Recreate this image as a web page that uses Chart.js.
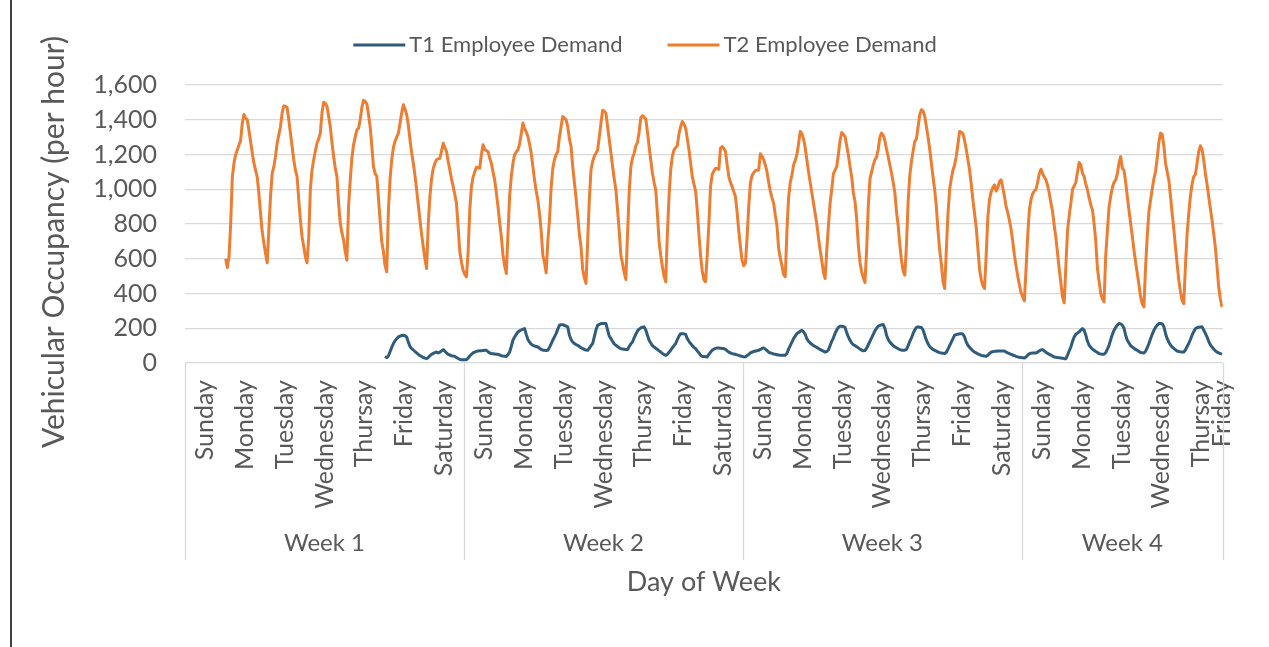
<!DOCTYPE html>
<html>
<head>
<meta charset="utf-8">
<title>Employee Demand</title>
<script src="https://cdn.jsdelivr.net/npm/chart.js@4.4.1/dist/chart.umd.min.js"></script>
<style>
  html, body { margin: 0; padding: 0; background: #ffffff; }
  #chart { display: block; }
</style>
</head>
<body>
<canvas id="chart" width="1269" height="647"></canvas>
<script>
// category structure: hourly points, grouped by day and week
// (the source workbook spells Thursday as "Thursay")
const days = ['Sunday', 'Monday', 'Tuesday', 'Wednesday', 'Thursay', 'Friday', 'Saturday'];
const weeks = ['Week 1', 'Week 2', 'Week 3', 'Week 4'];
const weekHours = [168, 168, 168, 121]; // week 4 stops at Friday 00:00

// T2 starts Monday 00:00 of week 1, T1 starts Friday 00:00 of week 1
const t2Start = 24;
const t1Start = 120;

// T2 Employee Demand, one row per day (24 hours)
const t2Week1 = [
    600, 550, 610, 800, 1070, 1150, 1200, 1225, 1255, 1280, 1380, 1430, 1410, 1400, 1340, 1275, 1210, 1150, 1110, 1070, 975, 860, 755, 690,
    630, 577, 765, 958, 1090, 1130, 1190, 1265, 1313, 1360, 1440, 1480, 1478, 1470, 1400, 1323, 1246, 1170, 1110, 1073, 940, 823, 727, 670,
    611, 577, 720, 1000, 1110, 1170, 1220, 1265, 1290, 1323, 1440, 1500, 1495, 1477, 1420, 1360, 1270, 1190, 1120, 1073, 920, 804, 750, 708,
    640, 592, 900, 1050, 1180, 1255, 1300, 1342, 1350, 1400, 1470, 1512, 1505, 1492, 1430, 1360, 1250, 1130, 1090, 1075, 950, 820, 700, 640,
    560, 525, 880, 1060, 1170, 1240, 1275, 1300, 1323, 1380, 1440, 1486, 1460, 1430, 1370, 1285, 1210, 1150, 1080, 996, 910, 823, 740, 669,
    600, 544, 800, 960, 1060, 1120, 1150, 1170, 1175, 1178, 1220, 1265, 1240, 1217, 1160, 1111, 1060, 1015, 970, 919, 780, 640, 580, 534
];
const t2Week2 = [
    510, 496, 640, 880, 1015, 1070, 1100, 1127, 1125, 1121, 1200, 1256, 1230, 1222, 1217, 1180, 1150, 1100, 1054, 980, 900, 810, 727, 620,
    560, 515, 740, 960, 1073, 1150, 1198, 1215, 1227, 1260, 1320, 1381, 1350, 1330, 1304, 1260, 1208, 1130, 1054, 990, 938, 861, 760, 620,
    580, 519, 700, 823, 1010, 1120, 1170, 1200, 1217, 1300, 1360, 1419, 1410, 1400, 1360, 1290, 1246, 1130, 1040, 950, 850, 740, 669, 540,
    490, 458, 700, 940, 1111, 1160, 1190, 1208, 1225, 1300, 1381, 1454, 1450, 1438, 1360, 1285, 1210, 1131, 1060, 996, 881, 760, 620, 573,
    520, 481, 740, 980, 1130, 1180, 1208, 1250, 1270, 1330, 1410, 1423, 1415, 1404, 1330, 1246, 1170, 1092, 1040, 996, 860, 700, 620, 554,
    500, 467, 740, 960, 1110, 1190, 1227, 1240, 1250, 1320, 1360, 1390, 1375, 1352, 1290, 1227, 1150, 1073, 1030, 990, 880, 740, 620, 530,
    480, 467, 620, 800, 1015, 1085, 1105, 1121, 1118, 1115, 1237, 1246, 1235, 1217, 1140, 1073, 1040, 1015, 985, 958, 870, 760, 669, 590
];
const t2Week3 = [
    560, 575, 720, 900, 1035, 1080, 1095, 1107, 1110, 1111, 1204, 1190, 1170, 1140, 1100, 1040, 990, 950, 920, 850, 790, 660, 605, 560,
    510, 496, 760, 950, 1040, 1080, 1140, 1165, 1200, 1260, 1333, 1320, 1290, 1240, 1170, 1100, 1040, 980, 920, 860, 800, 720, 650, 590,
    520, 486, 650, 790, 920, 1000, 1090, 1110, 1131, 1200, 1280, 1327, 1315, 1304, 1250, 1198, 1130, 1073, 980, 930, 830, 680, 580, 525,
    490, 463, 650, 900, 1060, 1100, 1140, 1170, 1185, 1230, 1300, 1323, 1310, 1280, 1230, 1188, 1140, 1092, 1040, 980, 870, 790, 680, 590,
    530, 506, 680, 930, 1080, 1160, 1220, 1275, 1290, 1360, 1430, 1458, 1450, 1420, 1360, 1300, 1230, 1150, 1070, 996, 900, 760, 650, 570,
    470, 429, 650, 860, 1000, 1060, 1110, 1140, 1190, 1260, 1333, 1328, 1320, 1280, 1230, 1170, 1111, 1030, 938, 860, 780, 660, 540, 480,
    445, 429, 620, 840, 940, 985, 1010, 1025, 990, 1010, 1044, 1054, 1010, 960, 900, 865, 820, 770, 700, 620, 560, 500, 450, 405
];
const t2Week4 = [
    380, 358, 540, 730, 880, 940, 975, 990, 1000, 1040, 1090, 1115, 1090, 1070, 1054, 1020, 977, 920, 870, 790, 720, 630, 540, 460,
    380, 346, 560, 760, 850, 920, 1000, 1020, 1040, 1100, 1154, 1140, 1092, 1073, 1030, 996, 950, 910, 881, 800, 700, 545, 470, 400,
    370, 352, 620, 760, 900, 960, 1010, 1040, 1054, 1090, 1150, 1188, 1121, 1110, 1040, 958, 880, 804, 730, 650, 580, 515, 450, 381,
    340, 323, 554, 730, 870, 938, 1000, 1060, 1102, 1180, 1270, 1323, 1315, 1250, 1150, 1100, 1054, 960, 861, 770, 669, 570, 477, 410,
    360, 342, 560, 740, 861, 960, 1030, 1073, 1085, 1150, 1217, 1250, 1230, 1170, 1092, 1030, 958, 890, 823, 745, 669, 560, 440, 370,
    323
];

// T1 Employee Demand
const t1Week1 = [
    38, 31, 40, 65, 90, 112, 128, 140, 150, 155, 158, 160, 157, 150, 120, 95, 83, 75, 66, 58, 50, 42, 38, 32,
    28, 25, 32, 42, 50, 55, 60, 63, 58, 62, 70, 77, 68, 58, 50, 46, 42, 40, 38, 32, 26, 21, 19, 19
];
const t1Week2 = [
    19, 19, 28, 40, 50, 58, 63, 67, 69, 70, 71, 72, 73, 73, 65, 58, 54, 53, 52, 51, 50, 46, 42, 40,
    39, 38, 48, 63, 95, 131, 150, 165, 179, 185, 190, 195, 198, 165, 135, 120, 108, 102, 98, 95, 92, 85, 78, 74,
    73, 72, 73, 90, 110, 131, 150, 169, 195, 217, 220, 220, 217, 212, 208, 160, 135, 121, 112, 106, 102, 95, 88, 83,
    78, 75, 73, 85, 100, 112, 150, 190, 217, 222, 227, 228, 228, 227, 190, 155, 140, 125, 110, 102, 95, 88, 83, 80,
    79, 78, 77, 95, 110, 121, 145, 165, 185, 195, 202, 206, 208, 190, 160, 131, 115, 100, 92, 85, 78, 70, 63, 55,
    48, 44, 50, 62, 73, 88, 100, 112, 135, 155, 169, 169, 168, 165, 140, 125, 112, 100, 90, 83, 70, 58, 45, 38,
    37, 36, 35, 50, 62, 73, 80, 84, 87, 86, 85, 84, 83, 78, 70, 63, 58, 54, 52, 50, 47, 44, 40, 38
];
const t1Week3 = [
    35, 36, 42, 50, 58, 63, 66, 69, 71, 73, 78, 84, 87, 80, 72, 63, 58, 55, 52, 50, 48, 46, 44, 44,
    44, 44, 55, 80, 100, 120, 140, 155, 169, 176, 182, 188, 180, 165, 140, 125, 115, 108, 100, 95, 90, 84, 78, 73,
    68, 63, 66, 75, 100, 125, 145, 170, 190, 205, 212, 212, 210, 205, 175, 150, 130, 115, 105, 100, 94, 87, 80, 74,
    70, 72, 85, 105, 125, 145, 165, 185, 200, 212, 216, 220, 221, 200, 160, 135, 120, 110, 100, 93, 88, 82, 77, 74,
    73, 74, 78, 100, 125, 145, 170, 190, 205, 208, 206, 204, 190, 160, 131, 110, 95, 85, 78, 73, 68, 63, 60, 57,
    56, 54, 62, 80, 100, 120, 140, 160, 163, 166, 168, 169, 166, 150, 120, 102, 90, 80, 70, 63, 58, 52, 48, 44,
    42, 40, 38, 45, 55, 63, 65, 67, 68, 69, 69, 69, 69, 69, 63, 58, 54, 50, 46, 42, 38, 35, 33, 31
];
const t1Week4 = [
    30, 29, 35, 45, 54, 56, 57, 58, 58, 63, 70, 75, 77, 70, 62, 55, 50, 45, 40, 35, 33, 31, 30, 29,
    27, 25, 25, 45, 70, 92, 125, 150, 165, 172, 179, 190, 198, 188, 160, 125, 102, 90, 80, 73, 66, 60, 54, 52,
    51, 50, 60, 80, 102, 135, 165, 188, 205, 218, 227, 225, 218, 200, 160, 131, 115, 100, 92, 85, 78, 73, 66, 60,
    59, 58, 68, 88, 112, 140, 165, 188, 205, 218, 227, 228, 225, 210, 170, 140, 120, 103, 92, 84, 76, 69, 66, 64,
    63, 63, 75, 95, 112, 135, 160, 180, 198, 203, 206, 207, 208, 190, 170, 150, 125, 105, 92, 80, 70, 63, 58, 54,
    52
];

const fontFamily = "Lato, 'Open Sans', sans-serif";
const textColor = '#595959';
const gridColor = '#D9D9D9';

Chart.defaults.font.family = fontFamily;
Chart.defaults.color = textColor;

const totalHours = weekHours.reduce((s, h) => s + h, 0);

const toPoints = (start, values) => values.map((v, i) => ({ x: start + i, y: v }));
const t1Points = toPoints(t1Start, [...t1Week1, ...t1Week2, ...t1Week3, ...t1Week4]);
const t2Points = toPoints(t2Start, [...t2Week1, ...t2Week2, ...t2Week3, ...t2Week4]);

// one tick per day, in the middle of its hours
const dayTicks = [];
const weekSpans = [];
let firstHour = 0;
weekHours.forEach((hours, w) => {
    for (let d = 0; d * 24 < hours; d++) {
        const len = Math.min(24, hours - d * 24);
        dayTicks.push({ value: firstHour + d * 24 + (len - 1) / 2, label: days[d] });
    }
    weekSpans.push({ from: firstHour - 0.5, to: firstHour + hours - 0.5, label: weeks[w] });
    firstHour += hours;
});

// second level of the category axis: week dividers and week names
const weekAxis = {
    id: 'weekAxis',
    afterDraw(chart) {
        const { ctx, chartArea } = chart;
        const x = chart.scales.x;
        ctx.save();
        ctx.strokeStyle = gridColor;
        ctx.lineWidth = 1.3;
        const edges = [weekSpans[0].from, ...weekSpans.map(s => s.to)];
        edges.forEach(v => {
            const px = Math.round(x.getPixelForValue(v)) + 0.5;
            ctx.beginPath();
            ctx.moveTo(px, chartArea.bottom);
            ctx.lineTo(px, chartArea.bottom + 197);
            ctx.stroke();
        });
        ctx.fillStyle = textColor;
        ctx.font = '24px ' + fontFamily;
        ctx.textAlign = 'center';
        ctx.textBaseline = 'middle';
        weekSpans.forEach(s => {
            const cx = (x.getPixelForValue(s.from) + x.getPixelForValue(s.to)) / 2;
            ctx.fillText(s.label, cx, chartArea.bottom + 180);
        });

        // value axis title, centred a little below the plot's middle like the original
        ctx.save();
        ctx.translate(54, (chartArea.top + chartArea.bottom) / 2 + 18);
        ctx.rotate(-Math.PI / 2);
        ctx.font = '30px ' + fontFamily;
        ctx.fillText('Vehicular Occupancy (per hour)', 0, 0);
        ctx.restore();
        ctx.restore();
    }
};

// legend with short line samples, and the chart frame on the left
const lineLegend = {
    id: 'lineLegend',
    afterDraw(chart) {
        const { ctx, width } = chart;
        ctx.save();
        ctx.font = '22px ' + fontFamily;
        ctx.textBaseline = 'middle';
        ctx.textAlign = 'left';
        const items = chart.data.datasets.map(ds => ({
            text: ds.label,
            color: ds.borderColor,
            w: 52 + 4 + ctx.measureText(ds.label).width
        }));
        const total = items.reduce((s, it) => s + it.w, 0) + 45 * (items.length - 1);
        let cx = width / 2 + 10.5 - total / 2;
        const cy = 45;
        items.forEach(it => {
            ctx.strokeStyle = it.color;
            ctx.lineWidth = 3;
            ctx.beginPath();
            ctx.moveTo(cx, cy);
            ctx.lineTo(cx + 52, cy);
            ctx.stroke();
            ctx.fillStyle = textColor;
            ctx.fillText(it.text, cx + 56, cy);
            cx += it.w + 45;
        });
        ctx.fillStyle = '#404040';
        ctx.fillRect(10, 0, 2, chart.height);
        ctx.restore();
    }
};

new Chart(document.getElementById('chart'), {
    type: 'line',
    data: {
        datasets: [
            {
                label: 'T1 Employee Demand',
                data: t1Points,
                borderColor: '#2F5B7C',
                backgroundColor: '#2F5B7C',
                borderWidth: 3,
                pointRadius: 0,
                tension: 0,
                borderJoinStyle: 'round'
            },
            {
                label: 'T2 Employee Demand',
                data: t2Points,
                borderColor: '#ED7D31',
                backgroundColor: '#ED7D31',
                borderWidth: 3,
                pointRadius: 0,
                tension: 0,
                borderJoinStyle: 'round'
            }
        ]
    },
    options: {
        responsive: false,
        animation: false,
        layout: { padding: { left: 20, right: 41, top: 85, bottom: 0 } },
        plugins: {
            legend: { display: false },
            tooltip: { enabled: false }
        },
        scales: {
            x: {
                type: 'linear',
                min: -0.5,
                max: totalHours - 0.5,
                grid: { display: false, drawTicks: false },
                border: { display: false },
                afterBuildTicks: (scale) => {
                    scale.ticks = dayTicks.map(t => ({ value: t.value }));
                },
                ticks: {
                    autoSkip: false,
                    minRotation: 90,
                    maxRotation: 90,
                    padding: 17,
                    font: { size: 25 },
                    color: textColor,
                    callback: (value, index) => dayTicks[index].label
                },
                title: {
                    display: true,
                    text: 'Day of Week',
                    font: { size: 27 },
                    color: textColor,
                    padding: { top: 0, bottom: 49 }
                },
                afterFit: (scale) => { scale.height = 284; }
            },
            y: {
                min: 0,
                max: 1600,
                ticks: {
                    stepSize: 200,
                    padding: 28,
                    font: { size: 25 },
                    color: textColor
                },
                grid: { color: gridColor, lineWidth: 1.3, drawTicks: false },
                border: { display: false },
                afterFit: (scale) => { scale.width = 165; }
            }
        }
    },
    plugins: [weekAxis, lineLegend]
});
</script>
</body>
</html>
